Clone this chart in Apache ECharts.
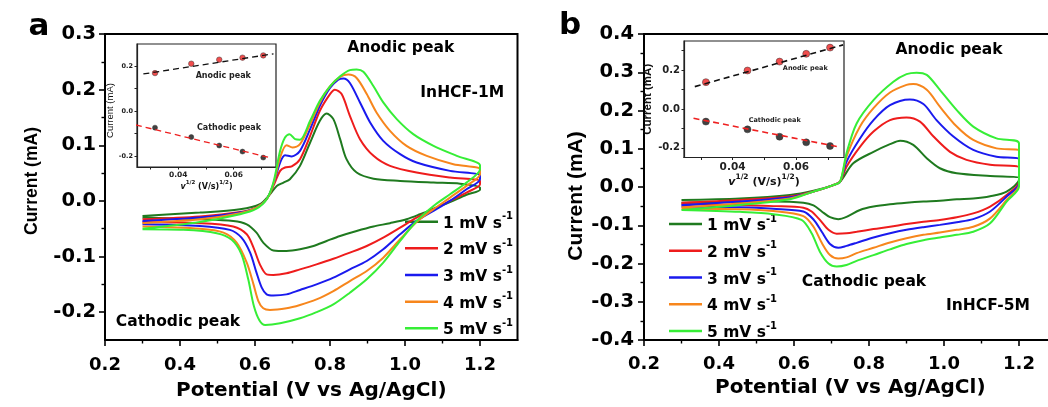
<!DOCTYPE html>
<html>
<head>
<meta charset="utf-8">
<script src="https://cdn.jsdelivr.net/npm/echarts@6.0.0/dist/echarts.min.js"></script>
<style>
  html, body { margin: 0; padding: 0; background: #fff; }
  #chart { width: 1048px; height: 407px; }
</style>
</head>
<body>
<div id="chart"></div>
<script>
// ---- data ----
var rateNames = ['1 mV s-1', '2 mV s-1', '3 mV s-1', '4 mV s-1', '5 mV s-1'];

// panel a (InHCF-1M): anodic sweep (up) and cathodic sweep (down), [E (V), I (mA)]
var aUp1 = [[0.3,-0.027],[0.453,-0.021],[0.56,-0.015],[0.613,-0.006],[0.64,0.012],[0.658,0.027],[0.676,0.033],[0.693,0.039],[0.72,0.063],[0.747,0.105],[0.773,0.144],[0.791,0.157],[0.809,0.147],[0.827,0.111],[0.844,0.075],[0.871,0.051],[0.916,0.04],[0.987,0.036],[1.076,0.033],[1.147,0.031],[1.2,0.024]];
var aDown1 = [[1.2,0.02],[1.164,0.011],[1.12,-0.002],[1.076,-0.014],[1.04,-0.024],[1.004,-0.033],[0.96,-0.04],[0.916,-0.046],[0.871,-0.054],[0.827,-0.063],[0.791,-0.072],[0.756,-0.081],[0.72,-0.087],[0.684,-0.09],[0.649,-0.089],[0.622,-0.075],[0.604,-0.057],[0.578,-0.042],[0.542,-0.036],[0.453,-0.033],[0.3,-0.03]];
var aUp2 = [[0.3,-0.033],[0.453,-0.028],[0.56,-0.02],[0.604,-0.012],[0.631,0.003],[0.649,0.027],[0.667,0.054],[0.68,0.06],[0.698,0.062],[0.72,0.075],[0.747,0.117],[0.773,0.162],[0.8,0.192],[0.813,0.2],[0.831,0.192],[0.853,0.153],[0.88,0.111],[0.916,0.081],[0.96,0.063],[1.031,0.051],[1.12,0.042],[1.2,0.036]];
var aDown2 = [[1.2,0.03],[1.164,0.015],[1.12,0],[1.076,-0.015],[1.031,-0.03],[0.987,-0.048],[0.942,-0.066],[0.898,-0.081],[0.853,-0.093],[0.809,-0.104],[0.764,-0.114],[0.72,-0.123],[0.684,-0.13],[0.649,-0.133],[0.631,-0.132],[0.613,-0.114],[0.596,-0.084],[0.578,-0.06],[0.542,-0.046],[0.453,-0.04],[0.3,-0.038]];
var aUp3 = [[0.3,-0.036],[0.453,-0.03],[0.56,-0.021],[0.604,-0.012],[0.631,0.003],[0.649,0.03],[0.667,0.069],[0.68,0.082],[0.698,0.08],[0.72,0.09],[0.747,0.129],[0.773,0.171],[0.8,0.203],[0.822,0.218],[0.836,0.22],[0.853,0.212],[0.88,0.177],[0.907,0.141],[0.942,0.108],[0.987,0.084],[1.031,0.069],[1.12,0.054],[1.2,0.046]];
var aDown3 = [[1.2,0.039],[1.164,0.021],[1.12,0],[1.076,-0.018],[1.031,-0.036],[0.987,-0.06],[0.942,-0.087],[0.898,-0.108],[0.853,-0.123],[0.809,-0.138],[0.764,-0.15],[0.72,-0.16],[0.684,-0.168],[0.649,-0.17],[0.631,-0.168],[0.618,-0.156],[0.604,-0.129],[0.587,-0.093],[0.564,-0.066],[0.533,-0.052],[0.453,-0.045],[0.3,-0.042]];
var aUp4 = [[0.3,-0.04],[0.453,-0.033],[0.56,-0.022],[0.604,-0.012],[0.631,0.003],[0.649,0.03],[0.667,0.078],[0.684,0.1],[0.7,0.096],[0.72,0.102],[0.747,0.138],[0.773,0.177],[0.8,0.206],[0.827,0.223],[0.849,0.227],[0.871,0.221],[0.898,0.192],[0.924,0.159],[0.96,0.126],[1.004,0.099],[1.058,0.081],[1.129,0.066],[1.2,0.057]];
var aDown4 = [[1.2,0.048],[1.164,0.027],[1.12,0.006],[1.076,-0.015],[1.031,-0.038],[0.987,-0.069],[0.942,-0.102],[0.898,-0.126],[0.853,-0.144],[0.809,-0.162],[0.764,-0.177],[0.72,-0.187],[0.684,-0.193],[0.64,-0.196],[0.622,-0.193],[0.609,-0.18],[0.596,-0.15],[0.578,-0.111],[0.551,-0.075],[0.516,-0.057],[0.453,-0.05],[0.3,-0.046]];
var aUp5 = [[0.3,-0.05],[0.453,-0.038],[0.56,-0.024],[0.604,-0.014],[0.631,0.003],[0.649,0.033],[0.667,0.09],[0.68,0.114],[0.692,0.12],[0.707,0.111],[0.72,0.11],[0.747,0.144],[0.773,0.18],[0.8,0.206],[0.827,0.224],[0.853,0.235],[0.871,0.236],[0.889,0.232],[0.916,0.206],[0.942,0.177],[0.978,0.147],[1.022,0.12],[1.076,0.099],[1.138,0.081],[1.2,0.064]];
var aDown5 = [[1.2,0.057],[1.164,0.033],[1.12,0.012],[1.076,-0.009],[1.031,-0.036],[0.987,-0.072],[0.942,-0.111],[0.898,-0.141],[0.853,-0.165],[0.809,-0.186],[0.764,-0.2],[0.72,-0.211],[0.667,-0.22],[0.627,-0.223],[0.612,-0.215],[0.597,-0.189],[0.582,-0.141],[0.564,-0.096],[0.538,-0.07],[0.498,-0.058],[0.409,-0.052],[0.3,-0.051]];

// panel b (InHCF-5M)
var bUp1 = [[0.3,-0.034],[0.456,-0.03],[0.589,-0.021],[0.652,-0.01],[0.705,0.005],[0.723,0.014],[0.758,0.062],[0.812,0.092],[0.856,0.112],[0.883,0.121],[0.918,0.11],[0.954,0.075],[0.989,0.049],[1.034,0.036],[1.123,0.029],[1.2,0.025]];
var bDown1 = [[1.2,0.02],[1.167,-0.012],[1.123,-0.024],[1.078,-0.03],[1.034,-0.032],[0.989,-0.036],[0.945,-0.038],[0.9,-0.041],[0.856,-0.045],[0.812,-0.051],[0.776,-0.06],[0.74,-0.078],[0.718,-0.084],[0.696,-0.079],[0.674,-0.064],[0.652,-0.048],[0.625,-0.041],[0.545,-0.038],[0.456,-0.039],[0.3,-0.041]];
var bUp2 = [[0.3,-0.041],[0.456,-0.034],[0.589,-0.025],[0.652,-0.012],[0.705,0.005],[0.723,0.014],[0.74,0.053],[0.776,0.105],[0.812,0.145],[0.856,0.175],[0.9,0.182],[0.936,0.171],[0.972,0.132],[1.016,0.092],[1.06,0.071],[1.123,0.058],[1.2,0.051]];
var bDown2 = [[1.2,0.014],[1.167,-0.021],[1.123,-0.051],[1.078,-0.069],[1.034,-0.079],[0.989,-0.086],[0.945,-0.091],[0.9,-0.097],[0.856,-0.104],[0.812,-0.11],[0.767,-0.117],[0.74,-0.121],[0.714,-0.122],[0.692,-0.112],[0.669,-0.086],[0.647,-0.064],[0.625,-0.054],[0.545,-0.05],[0.456,-0.047],[0.3,-0.045]];
var bUp3 = [[0.3,-0.047],[0.456,-0.038],[0.589,-0.027],[0.652,-0.012],[0.705,0.005],[0.723,0.014],[0.74,0.066],[0.776,0.127],[0.812,0.175],[0.856,0.214],[0.909,0.229],[0.945,0.217],[0.98,0.175],[1.025,0.132],[1.078,0.097],[1.14,0.079],[1.2,0.072]];
var bDown3 = [[1.2,0.01],[1.167,-0.025],[1.123,-0.064],[1.078,-0.084],[1.034,-0.092],[0.989,-0.099],[0.945,-0.105],[0.9,-0.112],[0.856,-0.121],[0.812,-0.132],[0.767,-0.146],[0.74,-0.154],[0.718,-0.159],[0.696,-0.149],[0.674,-0.117],[0.652,-0.085],[0.625,-0.064],[0.545,-0.057],[0.456,-0.053],[0.3,-0.051]];
var bUp4 = [[0.3,-0.053],[0.456,-0.043],[0.589,-0.03],[0.652,-0.012],[0.705,0.005],[0.723,0.014],[0.74,0.079],[0.776,0.158],[0.812,0.206],[0.856,0.247],[0.9,0.267],[0.918,0.269],[0.954,0.254],[0.989,0.21],[1.034,0.158],[1.078,0.123],[1.14,0.101],[1.2,0.095]];
var bDown4 = [[1.2,0.005],[1.167,-0.034],[1.123,-0.082],[1.078,-0.104],[1.034,-0.112],[0.989,-0.119],[0.945,-0.125],[0.9,-0.134],[0.856,-0.145],[0.812,-0.159],[0.767,-0.173],[0.74,-0.184],[0.718,-0.187],[0.696,-0.178],[0.674,-0.146],[0.652,-0.104],[0.625,-0.076],[0.545,-0.063],[0.456,-0.058],[0.3,-0.057]];
var bUp5 = [[0.3,-0.06],[0.456,-0.047],[0.589,-0.032],[0.652,-0.012],[0.705,0.005],[0.723,0.014],[0.74,0.088],[0.767,0.166],[0.812,0.227],[0.865,0.275],[0.9,0.295],[0.927,0.299],[0.954,0.293],[0.989,0.254],[1.034,0.201],[1.078,0.158],[1.14,0.127],[1.2,0.114]];
var bDown5 = [[1.2,0.001],[1.167,-0.038],[1.123,-0.095],[1.078,-0.117],[1.034,-0.125],[0.989,-0.132],[0.945,-0.139],[0.9,-0.149],[0.856,-0.163],[0.812,-0.178],[0.767,-0.193],[0.74,-0.204],[0.714,-0.208],[0.692,-0.2],[0.669,-0.169],[0.647,-0.121],[0.62,-0.086],[0.545,-0.071],[0.456,-0.065],[0.3,-0.06]];

// insets: peak current vs v^1/2
var sqrtRate = [0.0316, 0.0447, 0.0548, 0.0632, 0.0707];
var insAAnodic = [0.17, 0.212, 0.23, 0.239, 0.249];
var insACathodic = [-0.074, -0.116, -0.154, -0.181, -0.208];
var insAAnodicFit = [[0.0274, 0.166], [0.0744, 0.256]];
var insACathodicFit = [[0.0247, -0.062], [0.0737, -0.21]];
var insBAnodic = [0.138, 0.198, 0.244, 0.284, 0.316];
var insBCathodic = [-0.065, -0.105, -0.143, -0.172, -0.191];
var insBAnodicFit = [[0.0281, 0.115], [0.0748, 0.33]];
var insBCathodicFit = [[0.0277, -0.048], [0.074, -0.197]];

// tick values
var xTicks = [0.2, 0.4, 0.6, 0.8, 1.0, 1.2];
var xMinor = [0.3, 0.5, 0.7, 0.9, 1.1];
var aYTicks = [-0.2, -0.1, 0, 0.1, 0.2, 0.3];
var aYMinor = [-0.15, -0.05, 0.05, 0.15, 0.25];
var bYTicks = [-0.4, -0.3, -0.2, -0.1, 0, 0.1, 0.2, 0.3, 0.4];
var bYMinor = [-0.35, -0.25, -0.15, -0.05, 0.05, 0.15, 0.25, 0.35];
var insXLabels = [0.04, 0.06];
var insXTicks = [0.03, 0.04, 0.05, 0.06, 0.07];
var insYLabels = [-0.2, 0, 0.2];
var insAYTicks = [-0.2, -0.1, 0, 0.1, 0.2];
var insBYTicks = [-0.2, -0.1, 0, 0.1, 0.2, 0.3];

var aUp = [aUp1, aUp2, aUp3, aUp4, aUp5];
var aDown = [aDown1, aDown2, aDown3, aDown4, aDown5];
var bUp = [bUp1, bUp2, bUp3, bUp4, bUp5];
var bDown = [bDown1, bDown2, bDown3, bDown4, bDown5];

var rateColors = ['#1f7a1f', '#ee1c1c', '#1a1aee', '#f7861c', '#36ee36'];
var FONT = '"DejaVu Sans", sans-serif';
var ARIAL = '"Liberation Sans", Arial, sans-serif';

function fixed(d) {
  return function (v) { return v.toFixed(d); };
}

function mainAxis(grid, min, max, ticks, name, nameGap, labelMargin, labelSize, nameStyle, pos) {
  return {
    type: 'value', gridIndex: grid, min: min, max: max, position: pos,
    splitLine: { show: false },
    axisLine: { onZero: false, lineStyle: { color: '#000', width: 2 } },
    axisTick: { customValues: ticks, length: 6, lineStyle: { color: '#000', width: 1.6 } },
    axisLabel: {
      customValues: ticks, formatter: fixed(1), margin: labelMargin,
      fontFamily: FONT, fontWeight: 'bold', fontSize: labelSize, color: '#000'
    },
    name: name, nameLocation: 'middle', nameGap: nameGap,
    nameTextStyle: Object.assign({ fontWeight: 'bold', color: '#000' }, nameStyle)
  };
}

function minorAxis(grid, min, max, ticks, pos) {
  return {
    type: 'value', gridIndex: grid, min: min, max: max, position: pos,
    splitLine: { show: false },
    axisLine: { show: false, onZero: false },
    axisTick: { customValues: ticks, length: 3.5, lineStyle: { color: '#000', width: 1.4 } },
    axisLabel: { show: false }
  };
}

function insetAxis(grid, min, max, ticks, labels, digits, fs, margin, pos, name, nameGap, nameStyle) {
  return {
    type: 'value', gridIndex: grid, min: min, max: max, position: pos,
    splitLine: { show: false },
    axisLine: { onZero: false, lineStyle: { color: '#222', width: 1.2 } },
    axisTick: { customValues: ticks, length: 2.5, lineStyle: { color: '#222', width: 1 } },
    axisLabel: {
      customValues: labels, formatter: fixed(digits), margin: margin,
      fontFamily: FONT, fontWeight: 'bold', fontSize: fs, color: '#222'
    },
    name: name, nameLocation: 'middle', nameGap: nameGap, nameTextStyle: nameStyle
  };
}

function rateNameRich(sz, sup, lh) {
  return {
    n: { fontFamily: FONT, fontWeight: 'bold', fontSize: sz, color: '#000', lineHeight: lh, verticalAlign: 'bottom' },
    s: { fontFamily: FONT, fontWeight: 'bold', fontSize: sup, color: '#000', lineHeight: 8, verticalAlign: 'top' }
  };
}

function vNameStyle(sz, sup) {
  return {
    rich: {
      i: { fontFamily: FONT, fontWeight: 'bold', fontStyle: 'italic', fontSize: sz, color: '#111', lineHeight: sz + 3, verticalAlign: 'bottom' },
      n: { fontFamily: FONT, fontWeight: 'bold', fontSize: sz, color: '#111', lineHeight: sz + 3, verticalAlign: 'bottom' },
      s: { fontFamily: FONT, fontWeight: 'bold', fontSize: sup, color: '#111', lineHeight: sup + 1, verticalAlign: 'top' }
    }
  };
}
var vName = '{i|v}{s|1/2}{n| (V/s)}{s|1/2}{n|)}';

var xAxes = [
  mainAxis(0, 0.2, 1.3, xTicks, 'Potential (V vs Ag/AgCl)', 41, 16, 18, { fontFamily: FONT, fontSize: 20 }, 'bottom'),
  minorAxis(0, 0.2, 1.3, xMinor, 'bottom'),
  insetAxis(1, 0.0251, 0.0753, insXTicks, insXLabels, 2, 7.5, 4, 'bottom', vName, 12, vNameStyle(8, 5.5)),
  mainAxis(2, 0.2, 1.3, xTicks, 'Potential (V vs Ag/AgCl)', 27, 15, 18, { fontFamily: FONT, fontSize: 20 }, 'bottom'),
  minorAxis(2, 0.2, 1.3, xMinor, 'bottom'),
  insetAxis(3, 0.0247, 0.0751, insXTicks, insXLabels, 2, 10.5, 4, 'bottom', vName, 15, vNameStyle(11, 7.5))
];
var yAxes = [
  mainAxis(0, -0.25, 0.3, aYTicks, 'Current (mA)', 64, 9, 19.5,
    { fontFamily: ARIAL, fontSize: 17.5, padding: [0, 0, 0, 12] }, 'left'),
  minorAxis(0, -0.25, 0.3, aYMinor, 'left'),
  insetAxis(1, -0.25, 0.3, insAYTicks, insYLabels, 1, 6.5, 4, 'left', 'Current (mA)', 17,
    { fontFamily: ARIAL, fontSize: 9.5, color: '#111', padding: [0, 10, 0, 0] }),
  mainAxis(2, -0.4, 0.4, bYTicks, 'Current (mA)', 57, 10, 19.5,
    { fontFamily: ARIAL, fontSize: 21, padding: [0, 18, 0, 0] }, 'left'),
  minorAxis(2, -0.4, 0.4, bYMinor, 'left'),
  insetAxis(3, -0.25, 0.35, insBYTicks, insYLabels, 1, 10, 4, 'left', 'Current (mA)', 22,
    { fontFamily: ARIAL, fontWeight: 'bold', fontSize: 11.5, color: '#111' })
];

var series = [];
for (var i = 0; i < 5; i++) {
  series.push({
    type: 'line', name: rateNames[i], xAxisIndex: 0, yAxisIndex: 0,
    data: aUp[i].concat(aDown[i]), symbol: 'none', smooth: 0.3,
    color: rateColors[i], lineStyle: { width: 2, color: rateColors[i] }, z: 3 + i
  });
  series.push({
    type: 'line', name: rateNames[i], xAxisIndex: 3, yAxisIndex: 3,
    data: bUp[i].concat(bDown[i]), symbol: 'none', smooth: 0.3,
    color: rateColors[i], lineStyle: { width: 2, color: rateColors[i] }, z: 3 + i
  });
}

function pairs(xs, ys) {
  return xs.map(function (x, k) { return [x, ys[k]]; });
}
function fitLine(ax, data, color, w) {
  return {
    type: 'line', xAxisIndex: ax, yAxisIndex: ax, data: data, symbol: 'none',
    lineStyle: { color: color, width: w, type: [6, 4] }, z: 12, silent: true
  };
}
function dots(ax, data, color, size) {
  return {
    type: 'scatter', xAxisIndex: ax, yAxisIndex: ax, data: data, symbolSize: size,
    itemStyle: { color: color, borderColor: '#333', borderWidth: 0.6 }, z: 11, silent: true
  };
}
series.push(
  dots(2, pairs(sqrtRate, insAAnodic), '#ee2020', 5.5),
  dots(2, pairs(sqrtRate, insACathodic), '#111', 5),
  fitLine(2, insAAnodicFit, '#111', 1.3),
  fitLine(2, insACathodicFit, '#ee2020', 1.3),
  dots(5, pairs(sqrtRate, insBAnodic), '#ee2020', 7),
  dots(5, pairs(sqrtRate, insBCathodic), '#111', 7),
  fitLine(5, insBAnodicFit, '#111', 1.6),
  fitLine(5, insBCathodicFit, '#ee2020', 1.6)
);

function legendFor(left, top, gap) {
  return {
    data: rateNames, orient: 'vertical', left: left, top: top, padding: 0,
    itemWidth: 33, itemHeight: 2.5, itemGap: gap, icon: 'rect', selectedMode: false,
    formatter: function (name) { return '{n|' + name.slice(0, -2) + '}{s|-1}'; },
    textStyle: { rich: rateNameRich(15.5, 10, 20) }
  };
}

function label(text, x, y, size, extra) {
  return {
    type: 'text', x: x, y: y, z: 50,
    style: Object.assign({
      text: text, fill: '#000', textAlign: 'center', textVerticalAlign: 'middle',
      align: 'center', verticalAlign: 'middle',
      font: 'bold ' + size + 'px "DejaVu Sans", sans-serif'
    }, extra || {})
  };
}

var chart = echarts.init(document.getElementById('chart'));
chart.setOption({
  animation: false,
  backgroundColor: '#fff',
  textStyle: { fontFamily: FONT },
  grid: [
    { left: 105, top: 34, width: 412.5, height: 306, show: true, borderColor: '#000', borderWidth: 2, outerBoundsMode: 'none' },
    { left: 137, top: 44, width: 139, height: 123, show: true, borderColor: '#222', borderWidth: 1.2, backgroundColor: '#fff', outerBoundsMode: 'none' },
    { left: 644, top: 34, width: 412.5, height: 306, show: true, borderColor: '#000', borderWidth: 2, outerBoundsMode: 'none' },
    { left: 684, top: 41, width: 160, height: 116.5, show: true, borderColor: '#222', borderWidth: 1.2, backgroundColor: '#fff', outerBoundsMode: 'none' }
  ],
  xAxis: xAxes,
  yAxis: yAxes,
  legend: [legendFor(405, 211.7, 6.65), legendFor(669, 214, 6.75)],
  series: series,
  graphic: [
    label('a', 39, 26.5, 31),
    label('b', 570, 26.3, 31),
    label('Anodic peak', 400.7, 48.3, 15.5),
    label('InHCF-1M', 462.3, 93, 15.5),
    label('Cathodic peak', 178, 322, 15.5),
    label('Anodic peak', 949, 50, 15.5),
    label('Cathodic peak', 864, 282, 15.5),
    label('InHCF-5M', 988, 305.7, 15.5),
    label('Anodic peak', 223.3, 75.5, 8, { fill: '#222' }),
    label('Cathodic peak', 229, 127.7, 8, { fill: '#222' }),
    label('Anodic peak', 805.3, 68.3, 6.5, { fill: '#222' }),
    label('Cathodic peak', 774.7, 120, 6.5, { fill: '#222' })
  ]
});
</script>
</body>
</html>
